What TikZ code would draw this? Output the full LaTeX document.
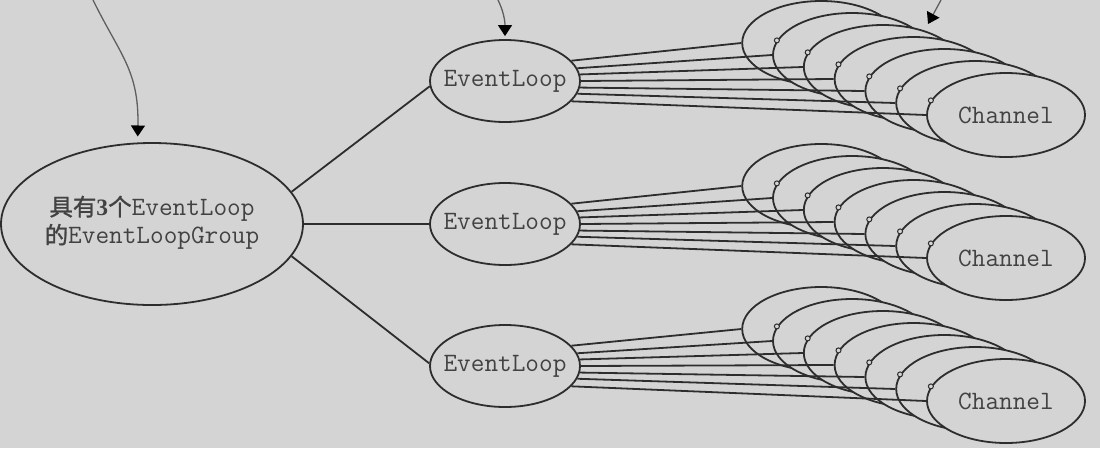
\documentclass[tikz,border=0pt]{standalone}
\usepackage{fontspec}
\newfontfamily\cjk{Noto Sans CJK SC}[FakeBold=1.2]
\newfontfamily\dig{Liberation Serif}
\newcommand\zh[1]{{\cjk\fontsize{23.5}{28}\selectfont #1}}
\newcommand\numd[1]{{\dig\bfseries\fontsize{23.5}{28}\selectfont #1}}
\usetikzlibrary{shapes.geometric,arrows.meta}
\definecolor{bg}{RGB}{212,212,212}
\definecolor{ink}{RGB}{45,45,45}
\definecolor{txt}{RGB}{66,66,66}
\definecolor{arrink}{RGB}{95,95,95}
\tikzset{
  elp/.style={ellipse, draw=ink, line width=1.8pt, fill=bg, inner sep=0pt, text=txt,
    font=\ttfamily\fontsize{26.5}{28}\selectfont},
  loopnode/.style={elp, minimum width=150pt, minimum height=82pt},
  chan/.style={elp, minimum width=158pt, minimum height=84pt},
  grp/.style={elp, minimum width=302pt, minimum height=162pt},
  wire/.style={draw=ink, line width=1.8pt},
  ptr/.style={draw=arrink, line width=1.3pt,
    -{Triangle[width=14pt,length=11pt,color=black]}},
  dotmark/.style={draw=ink, line width=1pt, fill=bg}
}
\begin{document}
\begin{tikzpicture}[x=1pt,y=-1pt]
\fill[bg] (0,0) rectangle (1100,448);
\useasboundingbox (0,0) rectangle (1100,448);

\node[grp] (g) at (152,224) {\makebox[0pt]{\begin{tabular}{@{}c@{}}\zh{具有}\numd{3}\zh{个}EventLoop\\\zh{的}EventLoopGroup\end{tabular}}};

\foreach \k/\ey/\cy in {1/81/115, 2/224/258, 3/366/401} {
  \node[loopnode] (e\k) at (505,\ey) {\makebox[0pt]{EventLoop}};
  \foreach \i/\a in {0/17,1/10,2/5,3/0,4/-5,5/-10,6/-17} {
    \pgfmathsetmacro\cx{1006-30.8*(6-\i)}
    \pgfmathsetmacro\cyy{\cy-12*(6-\i)}
    \node[chan] (c\k\i) at (\cx,\cyy) {\ifnum\i=6 \makebox[0pt]{Channel}\fi};
    \ifnum\i>0 \draw[dotmark] (c\k\i.169) circle (2.5pt); \fi
    \draw[wire] (e\k.\a) -- (c\k\i.west);
  }
}

\draw[wire] (g.13) -- (e1.184);
\draw[wire] (g.east) -- (e2.west);
\draw[wire] (g.-13) -- (e3.178);

\coordinate (s1) at (93,0);
\coordinate (s2) at (498,0);
\coordinate (s3) at (941,0);
\coordinate (t3) at (928,24);
\draw[ptr, shorten >=6pt] (s1) .. controls (120,55) and (139,70) .. (g.100);
\draw[ptr, shorten >=3pt] (s2) .. controls (503,10) and (505,20) .. (e1.north);
\draw[ptr] (s3) -- (t3);
\end{tikzpicture}
\end{document}
